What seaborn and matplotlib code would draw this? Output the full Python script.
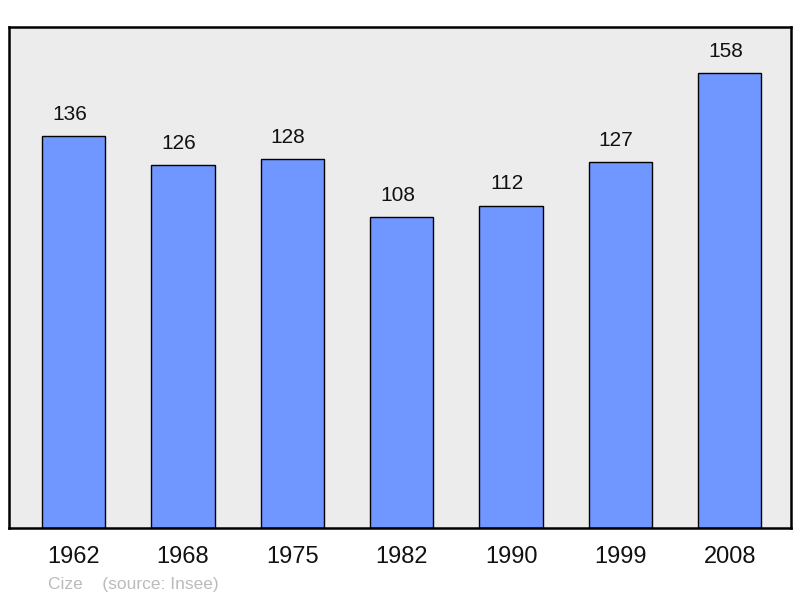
import pandas as pd
import seaborn as sns
import matplotlib.pyplot as plt

# 데이터
years = ["1962", "1968", "1975", "1982", "1990", "1999", "2008"]
population = [136, 126, 128, 108, 112, 127, 158]

df = pd.DataFrame({"year": years, "population": population})

sns.set_theme(style="white")
plt.rcParams["font.family"] = ["Liberation Sans", "DejaVu Sans"]

fig = plt.figure(figsize=(8, 5.98), dpi=100)
ax = fig.add_axes([0.01125, 0.117, 0.9775, 0.8378])
ax.set_facecolor("#ececec")

sns.barplot(data=df, x="year", y="population", color="#7096ff", saturation=1,
            width=0.58, edgecolor="black", linewidth=1.0, ax=ax)

# 값 라벨 (원본처럼 약간 왼쪽으로)
labels = ax.bar_label(ax.containers[0], fontsize=15, padding=9, color="#111111")
for t in labels:
    t.xyann = (-3, 9)

ax.set_xlim(-0.59, 6.56)
ax.set_ylim(0, 174)
ax.set_xlabel("")
ax.set_ylabel("")
ax.set_yticks([])
ax.tick_params(axis="x", length=0, pad=13, labelsize=17, colors="#111111")
for lbl in ax.get_xticklabels():
    lbl.set_x(lbl.get_position()[0])
for s in ax.spines.values():
    s.set_visible(True)
    s.set_color("black")
    s.set_linewidth(1.8)

fig.text(0.06, 0.01, "Cize    (source: Insee)", fontsize=12.5, color="#bbbbbb",
         ha="left", va="bottom")

fig.savefig("out.png", dpi=100)
